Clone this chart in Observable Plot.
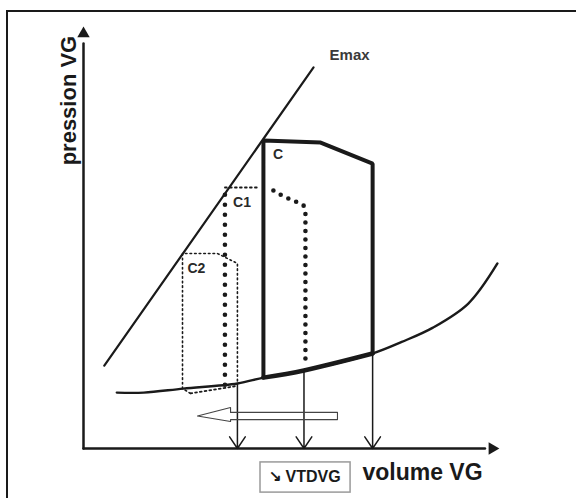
<!DOCTYPE html>
<html><head><meta charset="utf-8">
<script src="https://cdn.jsdelivr.net/npm/d3@7"></script>
<script src="https://cdn.jsdelivr.net/npm/@observablehq/plot@0.6"></script>
<style>
html,body{margin:0;padding:0;background:#fff;overflow:hidden}
#wrap{position:relative;width:576px;height:498px;overflow:hidden}
#frame{position:absolute;left:6px;top:10px;width:700px;height:700px;border-left:2px solid #1a1a1a;border-top:2px solid #1a1a1a}
#chart{position:absolute;left:0;top:0}
</style></head><body>
<div id="wrap"><div id="frame"></div><div id="chart"></div></div>
<script>
// ---- data (volume VG, pression VG in arbitrary units) ----
const emaxVol = [10, 110.6];
const emaxPres = [39.3, 180.6];

const edpvrVol  = [16, 29, 48, 74, 86.5, 106, 138.9, 153, 168, 185, 199];
const edpvrPres = [26.5, 26.5, 28.4, 30.8, 33.6, 37, 45, 50.5, 57.3, 68.7, 87.7];

// loop C (solid)
const cVol  = [86.5, 86.5, 114, 139, 139];
const cPres = [33.6, 146, 145, 135, 45];
const cBottomVol  = [86.5, 106, 139];
const cBottomPres = [33.6, 37, 45];

// loop C1 (dotted)
const c1LeftVol  = [68, 68];
const c1LeftPres = [30.2, 123.7];
const c1TopVol   = [68, 84];
const c1TopPres  = [123.7, 123.7];
const c1RightVol  = [91.3, 96.2, 101, 105.8, 106.7, 106.7];
const c1RightPres = [122.3, 119.4, 117.5, 115.2, 111.4, 41.7];

// loop C2 (fine dotted)
const c2Vol  = [51.4, 47.6, 47.6, 64.4, 74, 74];
const c2Pres = [26.1, 28.4, 92.4, 92.4, 87.7, 30.8];
const c2BottomVol  = [51.4, 74];
const c2BottomPres = [26.1, 29.7];

// end-diastolic volumes (arrows down to the volume axis)
const vtdVol  = [74, 106, 139];
const vtdPres = [30.8, 37, 45];

// hollow arrow (decreasing volume)
const hollowVol  = [54.8, 70.7, 70.7, 122.1, 122.1, 70.7, 70.7, 54.8];
const hollowPres = [15.4, 19.4, 17.1, 17.1, 13.7, 13.7, 12.8, 15.4];

// labels
const startLabels = [
  {text: "Emax", vol: 118.3, pres: 186.3, size: 15, color: "#3a3a3a"},
  {text: "volume VG", vol: 134.1, pres: -11.6, size: 23, color: "#1a1a1a"},
  {text: "VTDVG", vol: 97.1, pres: -13.5, size: 16, color: "#1a1a1a"}
];
const middleLabels = [
  {text: "C",  vol: 93.5, pres: 139.3, size: 14, color: "#2a2a2a"},
  {text: "C1", vol: 76.2, pres: 116.8, size: 14, color: "#2a2a2a"},
  {text: "C2", vol: 54.3, pres: 85.5, size: 14, color: "#2a2a2a"},
  {text: "↘", vol: 92.4, pres: -13.3, size: 15, color: "#1a1a1a"}
];
const yLabel = {text: "pression VG", vol: -7.2, pres: 164.9};
const boxVol = [85.1, 128.4];
const boxPres = [-6.6, -20.9];

// ---- helpers ----
const pts = (xs, ys) => xs.map((x, i) => ({x, y: ys[i]}));
const ink = "#1a1a1a";
const font = "Liberation Sans, Arial, Helvetica, sans-serif";

const chart = Plot.plot({
  width: 576,
  height: 498,
  x: {domain: [0, 200], range: [83, 499], axis: null},
  y: {domain: [0, 200], range: [448, 26], axis: null},
  style: {background: "transparent", fontFamily: font},
  marks: [
    // axes
    Plot.line(pts([0, 0], [0, 192]), {x: "x", y: "y", stroke: ink, strokeWidth: 2.5}),
    Plot.line(pts([0, 193], [0, 0]), {x: "x", y: "y", stroke: ink, strokeWidth: 2.5}),
    Plot.dot([{x: 0, y: 196.6}], {x: "x", y: "y", symbol: "triangle", r: 4.6, fill: ink, stroke: "none"}),
    Plot.dot([{x: 196.5, y: 0}], {x: "x", y: "y", symbol: "triangle", r: 4.6, fill: ink, stroke: "none", rotate: 90}),
    // Emax
    Plot.line(pts(emaxVol, emaxPres), {x: "x", y: "y", stroke: ink, strokeWidth: 2.2}),
    // EDPVR
    Plot.line(pts(edpvrVol, edpvrPres), {x: "x", y: "y", stroke: ink, strokeWidth: 2.4, curve: "catmull-rom"}),
    // loop C
    Plot.line(pts(cVol, cPres), {x: "x", y: "y", stroke: ink, strokeWidth: 4, strokeLinejoin: "miter"}),
    Plot.line(pts(cBottomVol, cBottomPres), {x: "x", y: "y", stroke: ink, strokeWidth: 4.5, curve: "catmull-rom"}),
    // loop C1
    Plot.line(pts(c1LeftVol, c1LeftPres), {x: "x", y: "y", stroke: ink, strokeWidth: 4.6, strokeDasharray: "0 10", strokeLinecap: "round"}),
    Plot.line(pts(c1TopVol, c1TopPres), {x: "x", y: "y", stroke: ink, strokeWidth: 1.8, strokeDasharray: "1.8 3.2"}),
    Plot.line(pts(c1RightVol, c1RightPres), {x: "x", y: "y", stroke: ink, strokeWidth: 4.6, strokeDasharray: "0 8.5", strokeLinecap: "round"}),
    // loop C2
    Plot.line(pts(c2Vol, c2Pres), {x: "x", y: "y", stroke: ink, strokeWidth: 1.6, strokeDasharray: "1.6 3"}),
    Plot.line(pts(c2BottomVol, c2BottomPres), {x: "x", y: "y", stroke: ink, strokeWidth: 1.8, strokeDasharray: "1.8 3"}),
    // VTD arrows
    Plot.arrow(vtdVol.map((v, i) => ({v, p: vtdPres[i], p0: 0})), {
      x1: "v", y1: "p", x2: "v", y2: "p0", stroke: ink, strokeWidth: 1.5, headLength: 14, headAngle: 68
    }),
    // hollow arrow
    Plot.line(pts(hollowVol, hollowPres), {x: "x", y: "y", stroke: "#444", strokeWidth: 1.1}),
    // VTDVG box
    Plot.rect([{x1: boxVol[0], x2: boxVol[1], y1: boxPres[0], y2: boxPres[1]}], {
      x1: "x1", x2: "x2", y1: "y1", y2: "y2", fill: "none", stroke: "#9a9a9a", strokeWidth: 1.5
    }),
    // labels
    Plot.text(startLabels, {
      x: "vol", y: "pres", text: "text", fontSize: d => d.size, textAnchor: "start",
      fill: "color", fontWeight: "bold", fontFamily: font
    }),
    Plot.text(middleLabels, {
      x: "vol", y: "pres", text: "text", fontSize: d => d.size, textAnchor: "middle",
      fill: "color", fontWeight: "bold", fontFamily: font
    }),
    Plot.text([yLabel], {
      x: "vol", y: "pres", text: "text", rotate: -90, fontSize: 22, fontWeight: "bold", fill: ink, fontFamily: font
    })
  ]
});
document.getElementById("chart").appendChild(chart);
</script>
</body></html>
